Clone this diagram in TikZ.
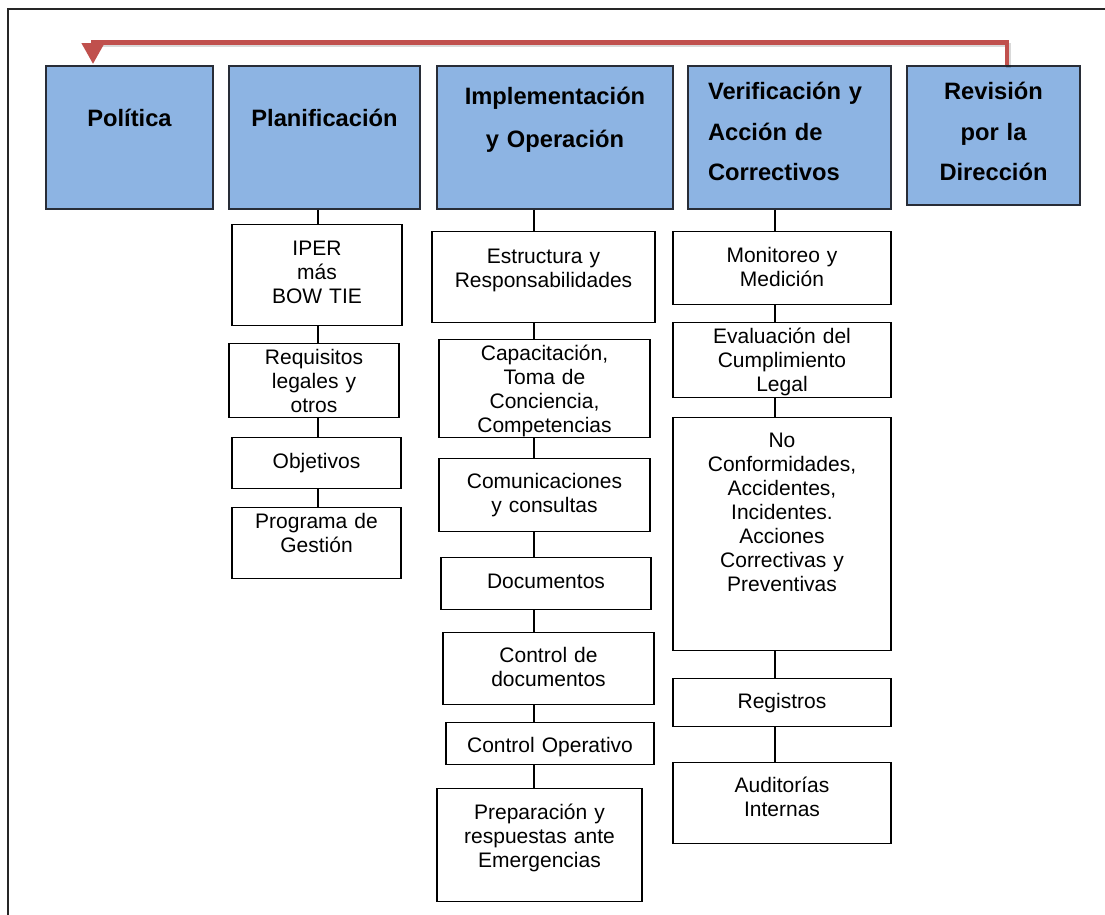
\documentclass[tikz,border=0pt]{standalone}
\usepackage{fontspec}
\setmainfont{Liberation Sans}
\usetikzlibrary{arrows.meta}
\definecolor{headblue}{RGB}{141,180,227}
\definecolor{headline}{RGB}{40,45,55}
\definecolor{loopred}{RGB}{192,80,77}

\begin{document}
\begin{tikzpicture}[x=1pt,y=-1pt,
		head/.style={draw=headline,fill=headblue,line width=1.5pt,anchor=north,inner sep=0pt,align=center,
			font=\bfseries\fontsize{23.7pt}{40.5pt}\selectfont},
		cell/.style={draw=black,line width=1.2pt,anchor=north,inner sep=0pt,align=center,
			font=\fontsize{21pt}{24pt}\selectfont},
		link/.style={line width=1.6pt},
		feedback/.style={draw=loopred,line width=4.5pt,-{Triangle[length=21pt,width=22pt]}},
		loopshade/.style={draw=black,opacity=.15,line width=4.5pt,transform canvas={shift={(1.5,2.5)}}}]
		\useasboundingbox (0,0) rectangle (1105,914);
		% The frame
		\draw[line width=1.6pt,black!85] (8,9) rectangle (1112,922);
		
		% The main blocks
		\node[head,text width=167pt,text height=61pt,text depth=82pt] (pol) at (129.5,65) {Política};
		\node[head,text width=191pt,text height=61pt,text depth=82pt] (pla) at (324.5,65) {Planificación};
		\node[head,text width=236pt,text height=39pt,text depth=104pt,
			font=\bfseries\fontsize{23.7pt}{42.5pt}\selectfont] (imp) at (555,65) {Implementación\\y Operación};
		\node[head,text width=163pt,inner xsep=20pt,align=left,text height=34pt,text depth=109pt] (ver) at (789.5,65)
			{Verificación y\\Acción de\\Correctivos};
		\node[head,text width=173pt,text height=34pt,text depth=105pt] (rev) at (993.5,65) {Revisión\\por la\\Dirección};
		
		% Planificacion
		\node[cell,text width=170pt,text height=31pt,text depth=70pt] (iper) at (317,224) {IPER\\más\\BOW TIE};
		\node[cell,text width=170pt,text height=21pt,text depth=53pt] (req) at (314,343) {Requisitos\\legales y\\otros};
		\node[cell,text width=169pt,text height=31pt,text depth=20pt] (obj) at (316.5,437) {Objetivos};
		\node[cell,text width=169pt,text height=21pt,text depth=50pt] (prog) at (316.5,507) {Programa de\\Gestión};
		
		% Implementacion y Operacion
		\node[cell,text width=223pt,text height=32pt,text depth=59pt] (est) at (543.5,231) {Estructura y\\Responsabilidades};
		\node[cell,text width=211pt,text height=21pt,text depth=77pt] (cap) at (544.5,339)
			{Capacitación,\\Toma de\\Conciencia,\\Competencias};
		\node[cell,text width=211pt,text height=30pt,text depth=43pt] (com) at (544.5,458) {Comunicaciones\\y consultas};
		\node[cell,text width=210pt,text height=31pt,text depth=21pt] (doc) at (546,557) {Documentos};
		\node[cell,text width=211pt,text height=30pt,text depth=42pt] (cdoc) at (548.5,632) {Control de\\documentos};
		\node[cell,text width=208pt,text height=30pt,text depth=12pt] (cop) at (550,722) {Control Operativo};
		\node[cell,text width=205pt,text height=31pt,text depth=82pt] (prep) at (539.5,788)
			{Preparación y\\respuestas ante\\Emergencias};
		
		% Verificacion
		\node[cell,text width=218pt,text height=31pt,text depth=42pt] (mon) at (782,231) {Monitoreo y\\Medición};
		\node[cell,text width=218pt,text height=21pt,text depth=54pt] (eva) at (782,322)
			{Evaluación del\\Cumplimiento\\Legal};
		\node[cell,text width=218pt,text height=30pt,text depth=203pt] (noc) at (782,417)
			{No\\Conformidades,\\Accidentes,\\Incidentes.\\Acciones\\Correctivas y\\Preventivas};
		\node[cell,text width=218pt,text height=30pt,text depth=18pt] (reg) at (782,678) {Registros};
		\node[cell,text width=218pt,text height=30pt,text depth=51pt] (aud) at (782,762) {Auditorías\\Internas};
		
		% The links
		\coordinate (plax) at (318,0);
		\coordinate (impx) at (534,0);
		\coordinate (verx) at (775,0);
		\foreach \a/\b in {pla/iper,iper/req,req/obj,obj/prog}
			\draw[link] (\a.south -| plax) -- (\b.north -| plax);
		\foreach \a/\b in {imp/est,est/cap,cap/com,com/doc,doc/cdoc,cdoc/cop,cop/prep}
			\draw[link] (\a.south -| impx) -- (\b.north -| impx);
		\foreach \a/\b in {ver/mon,mon/eva,eva/noc,noc/reg,reg/aud}
			\draw[link] (\a.south -| verx) -- (\b.north -| verx);
		
		% The feedback loop
		\coordinate (turnR) at (1007,42.5);
		\coordinate (turnL) at (93,42.5);
		\draw[loopshade] (rev.north -| turnR) -- (turnR) -- (turnL);
		\draw[feedback] (rev.north -| turnR) -- (turnR) -- (turnL) -- ([yshift=1pt]pol.north -| turnL);
	\end{tikzpicture}
\end{document}
